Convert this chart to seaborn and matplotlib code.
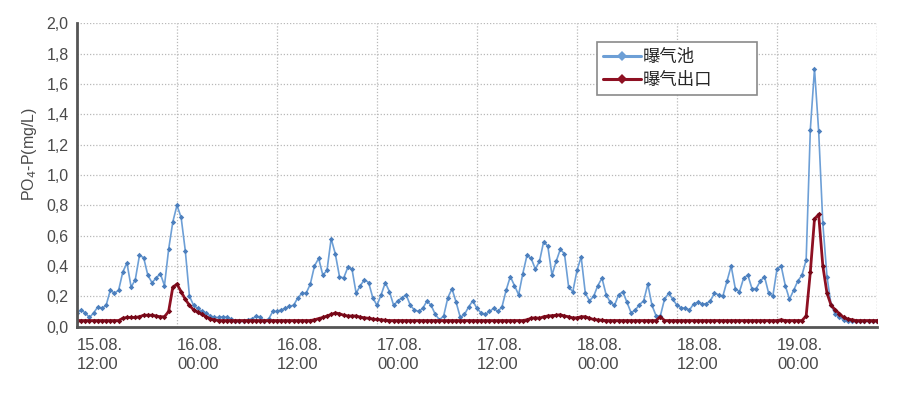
import pandas as pd
import seaborn as sns
import matplotlib.pyplot as plt
import numpy as np

# half-hourly readings from 15.08. 12:00 to 19.08. 12:00 (one row = 6 hours)
aeration_tank = [
    0.09, 0.11, 0.09, 0.06, 0.09, 0.13, 0.12, 0.14, 0.24, 0.22, 0.24, 0.36,
    0.42, 0.26, 0.31, 0.47, 0.455, 0.34, 0.29, 0.32, 0.35, 0.27, 0.51, 0.69,
    0.80, 0.72, 0.50, 0.20, 0.14, 0.12, 0.10, 0.09, 0.07, 0.06, 0.06, 0.065,
    0.06, 0.05, 0.04, 0.04, 0.04, 0.045, 0.05, 0.07, 0.06, 0.04, 0.05, 0.10,
    0.10, 0.11, 0.12, 0.135, 0.14, 0.19, 0.22, 0.22, 0.28, 0.40, 0.45, 0.34,
    0.37, 0.58, 0.48, 0.33, 0.32, 0.39, 0.38, 0.22, 0.27, 0.31, 0.29, 0.19,
    0.14, 0.21, 0.29, 0.23, 0.14, 0.17, 0.19, 0.21, 0.14, 0.11, 0.10, 0.12,
    0.17, 0.14, 0.08, 0.045, 0.07, 0.19, 0.25, 0.16, 0.06, 0.08, 0.13, 0.17,
    0.12, 0.09, 0.08, 0.10, 0.12, 0.10, 0.13, 0.24, 0.33, 0.27, 0.21, 0.35,
    0.47, 0.45, 0.38, 0.43, 0.56, 0.53, 0.34, 0.43, 0.51, 0.48, 0.26, 0.23,
    0.37, 0.46, 0.22, 0.17, 0.20, 0.27, 0.32, 0.21, 0.16, 0.14, 0.21, 0.23,
    0.16, 0.09, 0.11, 0.145, 0.17, 0.28, 0.14, 0.07, 0.07, 0.18, 0.22, 0.18,
    0.14, 0.125, 0.12, 0.11, 0.15, 0.16, 0.15, 0.15, 0.17, 0.22, 0.21, 0.20,
    0.30, 0.40, 0.25, 0.23, 0.32, 0.34, 0.25, 0.25, 0.30, 0.33, 0.22, 0.20,
    0.38, 0.40, 0.27, 0.18, 0.24, 0.30, 0.34, 0.44, 1.30, 1.70, 1.29, 0.68,
    0.33, 0.14, 0.08, 0.06, 0.045, 0.04, 0.04, 0.04, 0.04, 0.04, 0.04, 0.04,
    0.04,
]
aeration_outlet = [
    0.04, 0.04, 0.04, 0.04, 0.04, 0.04, 0.04, 0.04, 0.04, 0.04, 0.04, 0.055,
    0.06, 0.06, 0.06, 0.065, 0.075, 0.075, 0.075, 0.07, 0.065, 0.065, 0.10, 0.26,
    0.28, 0.23, 0.18, 0.14, 0.11, 0.095, 0.08, 0.065, 0.05, 0.045, 0.04, 0.04,
    0.04, 0.04, 0.04, 0.04, 0.04, 0.04, 0.04, 0.04, 0.04, 0.04, 0.04, 0.04,
    0.04, 0.04, 0.04, 0.04, 0.04, 0.04, 0.04, 0.04, 0.04, 0.045, 0.053, 0.06,
    0.07, 0.08, 0.09, 0.085, 0.075, 0.07, 0.07, 0.07, 0.062, 0.058, 0.055, 0.05,
    0.047, 0.045, 0.042, 0.04, 0.04, 0.04, 0.04, 0.04, 0.04, 0.04, 0.04, 0.04,
    0.04, 0.04, 0.04, 0.04, 0.04, 0.04, 0.04, 0.04, 0.04, 0.04, 0.04, 0.04,
    0.04, 0.04, 0.04, 0.04, 0.04, 0.04, 0.04, 0.04, 0.04, 0.04, 0.04, 0.04,
    0.045, 0.055, 0.058, 0.055, 0.065, 0.07, 0.072, 0.075, 0.078, 0.07, 0.065, 0.057,
    0.058, 0.065, 0.065, 0.055, 0.047, 0.044, 0.042, 0.04, 0.04, 0.04, 0.04, 0.04,
    0.04, 0.04, 0.04, 0.04, 0.04, 0.04, 0.04, 0.04, 0.065, 0.04, 0.04, 0.04,
    0.04, 0.04, 0.04, 0.04, 0.04, 0.04, 0.04, 0.04, 0.04, 0.04, 0.04, 0.04,
    0.04, 0.04, 0.04, 0.04, 0.04, 0.04, 0.04, 0.04, 0.04, 0.04, 0.04, 0.04,
    0.04, 0.045, 0.04, 0.04, 0.04, 0.04, 0.04, 0.07, 0.36, 0.71, 0.74, 0.40,
    0.22, 0.14, 0.11, 0.085, 0.06, 0.05, 0.045, 0.04, 0.04, 0.04, 0.04, 0.04,
    0.04,
]
series_names = ['曝气池', '曝气出口']
tick_labels = ['15.08.\n12:00', '16.08.\n00:00', '16.08.\n12:00', '17.08.\n00:00',
               '17.08.\n12:00', '18.08.\n00:00', '18.08.\n12:00', '19.08.\n00:00', '']
y_ticks = [0.0, 0.2, 0.4, 0.6, 0.8, 1.0, 1.2, 1.4, 1.6, 1.8, 2.0]

hours = np.arange(len(aeration_tank)) * 0.5
df = pd.concat([
    pd.DataFrame({'h': hours, 'v': aeration_tank, 'series': series_names[0]}),
    pd.DataFrame({'h': hours, 'v': aeration_outlet, 'series': series_names[1]}),
])

sns.set_style('white')
plt.rcParams['font.family'] = ['Noto Sans CJK SC', 'DejaVu Sans']
tick_font = ['Liberation Sans', 'DejaVu Sans']

fig = plt.figure(figsize=(8.97, 3.93), dpi=100)
ax = fig.add_axes([0.0858, 0.169, 0.8919, 0.7715])

line_colors = {'曝气池': '#6d9fd6', '曝气出口': '#8e1022'}
marker_colors = {'曝气池': '#4c7fbd', '曝气出口': '#760818'}
sns.lineplot(data=df, x='h', y='v', hue='series', palette=line_colors,
             marker='D', markersize=2.8, markeredgewidth=0, linewidth=1.2, ax=ax)
for line, name in zip(ax.lines, series_names):
    line.set_markerfacecolor(marker_colors[name])
ax.lines[1].set_linewidth(2.0)

ax.set_xlim(0, 96)
ax.set_ylim(0, 2.0)
ax.set_xticks(np.arange(0, 97, 12))
ax.set_xticklabels(tick_labels, ha='left', fontsize=12, color='#4a4a4a',
                   family=tick_font, linespacing=1.35)
ax.set_yticks(y_ticks)
ax.set_yticklabels([f'{t:.1f}'.replace('.', ',') for t in y_ticks],
                   fontsize=11.5, color='#4a4a4a', family=tick_font)
ax.tick_params(axis='x', direction='out', length=5, width=1.2, color='#555555', pad=3)
ax.tick_params(axis='y', direction='out', length=4, width=1.2, color='#555555', pad=2)

ax.grid(True, linestyle=(0, (1, 1.5)), color='#b8b8b8', linewidth=0.9)
ax.set_axisbelow(True)
for side in ['top', 'right']:
    ax.spines[side].set_visible(False)
for side in ['left', 'bottom']:
    ax.spines[side].set_color('#555555')
    ax.spines[side].set_linewidth(2)
ax.axvline(96, linestyle=(0, (1, 1.5)), color='#b8b8b8', linewidth=0.9, zorder=0)

ax.set_xlabel('')
ax.set_ylabel('PO$_4$-P(mg/L)', fontsize=11.5, color='#4a4a4a', family=tick_font)
ax.yaxis.set_label_coords(-0.047, 0.57)

handles, labels = ax.get_legend_handles_labels()
leg = ax.legend(handles, labels, loc='upper left', bbox_to_anchor=(0.65, 0.94, 0.2, 0.0),
                mode='expand', fontsize=12.5, frameon=True, fancybox=False, framealpha=1,
                edgecolor='#8a8a8a', handlelength=2.2, handletextpad=0.1,
                borderpad=0.35, labelspacing=0.3, borderaxespad=0)
leg.get_frame().set_linewidth(1.2)
for h in leg.legend_handles:
    h.set_markersize(5)
    h.set_linewidth(2.2)

fig.savefig('out.png', dpi=100)
